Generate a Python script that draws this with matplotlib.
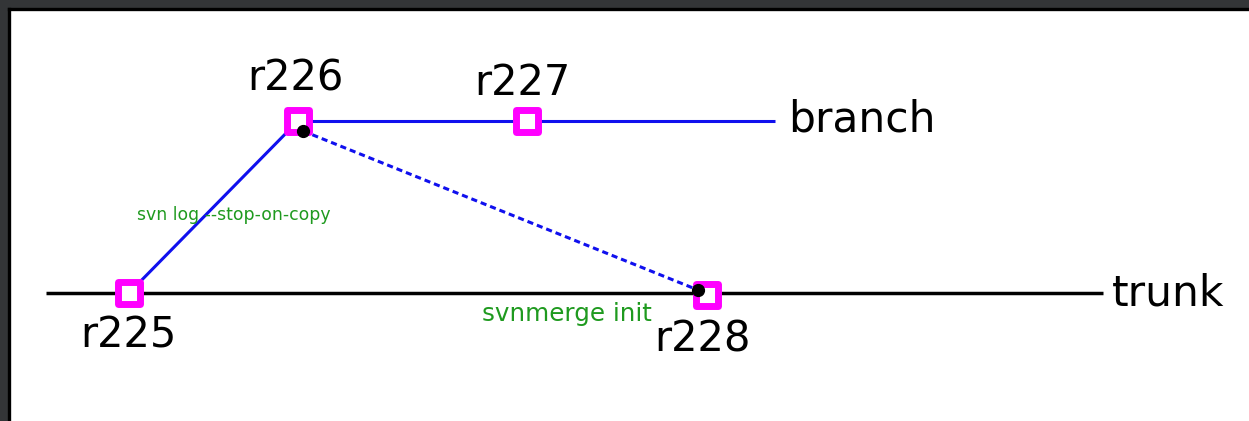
import matplotlib
matplotlib.use("Agg")
import matplotlib.pyplot as plt
from matplotlib.markers import MarkerStyle

# ----------------------------------------------------------------------------
# Data (pixel-style coordinates, y grows downward)
# ----------------------------------------------------------------------------
revisions = ["r225", "r226", "r227", "r228"]
rev_x = [129, 298, 527, 707]
rev_y = [293, 121, 121, 295]
label_x = [128, 295, 522, 703]
label_y = [348, 90, 95, 351]

trunk_x = [46, 1103]
trunk_y = [293, 293]
branch_x = [298, 775]
branch_y = [121, 121]
copy_x = [129, 298]
copy_y = [293, 121]

merge_x = [303, 698]
merge_y = [131, 290]

line_names = ["branch", "trunk"]
line_name_x = [788, 1112]
line_name_y = [132, 305]

notes = ["svn log --stop-on-copy", "svnmerge init"]
note_x = [234, 567]
note_y = [220, 321]
note_sizes = [12.4, 17.7]

GREEN = "#1f9a1f"
MAGENTA = "#ff00ff"

fig = plt.figure(figsize=(12.49, 4.21), dpi=100, facecolor="#333537")
ax = fig.add_axes([9 / 1249, 0, 1240 / 1249, 412 / 421])
ax.set_facecolor("white")
ax.set_xlim(9, 1249)
ax.set_ylim(421, 9)
ax.set_xticks([])
ax.set_yticks([])
for side in ["right", "bottom"]:
    ax.spines[side].set_visible(False)
for side in ["top", "left"]:
    ax.spines[side].set_linewidth(2.4)
    ax.spines[side].set_color("black")

# lines
ax.plot(trunk_x, trunk_y, color="black", lw=2.5, solid_capstyle="butt", zorder=1)
ax.plot(branch_x, branch_y, color="#1010ee", lw=2.2, solid_capstyle="butt", zorder=1)
ax.plot(copy_x, copy_y, color="#1010ee", lw=2.2, zorder=1)
ax.plot(merge_x, merge_y, color="#1010ee", lw=2.2, linestyle=(0, (2.0, 1.3)), zorder=2)

# revision markers
sq = MarkerStyle("s", joinstyle="round")
ax.plot(rev_x, rev_y, linestyle="none", marker=sq, markersize=16,
        markerfacecolor="white", markeredgecolor=MAGENTA, markeredgewidth=5.0, zorder=3)
ax.plot(merge_x, merge_y, linestyle="none", marker="o", markersize=8.5,
        color="black", zorder=4)

# labels
for name, x, y in zip(revisions, label_x, label_y):
    ax.text(x, y, name, ha="center", va="baseline", fontsize=30, color="black")
for name, x, y in zip(line_names, line_name_x, line_name_y):
    ax.text(x, y, name, ha="left", va="baseline", fontsize=30.5, color="black")
for note, x, y, s in zip(notes, note_x, note_y, note_sizes):
    ax.text(x, y, note, ha="center", va="baseline", fontsize=s, color=GREEN)

fig.savefig("out.png", dpi=100, facecolor=fig.get_facecolor())
